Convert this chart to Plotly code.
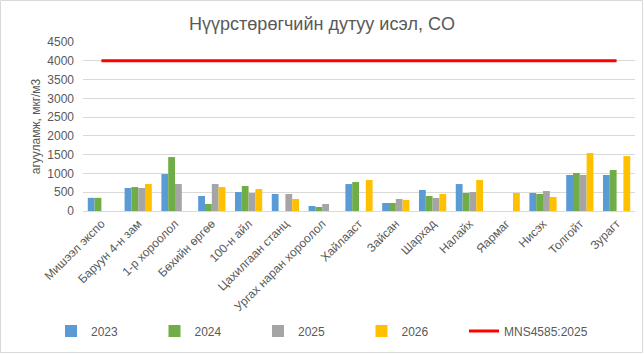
import plotly.graph_objects as go

categories = ["Мишээл экспо", "Баруун 4-н зам", "1-р хороолол", "Бөхийн өргөө", "100-н айл",
              "Цахилгаан станц", "Ургах наран хороолол", "Хайлааст", "Зайсан", "Шархад",
              "Налайх", "Яармаг", "Нисэх", "Толгойт", "Зурагт"]
v2023 = [350, 612, 984, 399, 505, 452, 133, 718, 213, 559, 718, None, 479, 958, 958]
v2024 = [350, 638, 1436, 186, 665, None, 106, 771, 213, 399, 479, None, 452, 1011, 1091]
v2025 = [None, 612, 718, 718, 479, 452, 186, None, 319, 346, 505, None, 532, 958, None]
v2026 = [None, 718, None, 638, 585, 319, None, 825, 293, 452, 825, 479, 372, 1543, 1463]
standard = [4000] * len(categories)
series_names = ["2023", "2024", "2025", "2026"]
colors = ["#5B9BD5", "#70AD47", "#A5A5A5", "#FFC000"]

fig = go.Figure()
for name, vals, col in zip(series_names, [v2023, v2024, v2025, v2026], colors):
    fig.add_trace(go.Bar(x=categories, y=vals, name=name, marker_color=col, marker_line_width=0))
fig.add_trace(go.Scatter(x=categories, y=standard, name="MNS4585:2025", mode="lines",
                         line=dict(color="#FF0000", width=3), legend="legend2"))

L, R, T, B = 83, 9, 42, 143
W, H = 644, 354
pw, ph = W - L - R, H - T - B

leg_common = dict(orientation="h", yanchor="middle", y=(H - B - 331) / ph,
                  font=dict(size=12, color="#595959"), itemclick=False,
                  bgcolor="rgba(0,0,0,0)")

fig.update_layout(
    width=W, height=H,
    margin=dict(l=L, r=R, t=T, b=B),
    paper_bgcolor="white", plot_bgcolor="white",
    font=dict(family="Liberation Sans, Arial, sans-serif", size=12, color="#595959"),
    title=dict(text="Нүүрстөрөгчийн дутуу исэл, CO", x=0.5, xanchor="center",
               y=1 - 24 / H, yanchor="middle", font=dict(size=18, color="#595959")),
    barmode="group", bargap=0.26, bargroupgap=0,
    showlegend=True,
    legend=dict(x=(51 - L) / pw, xanchor="left", entrywidth=58.5, entrywidthmode="pixels",
                **leg_common),
    legend2=dict(x=(464 - L) / pw, xanchor="left", **leg_common),
    xaxis=dict(tickangle=-45, showgrid=False, showline=True, linecolor="#D9D9D9",
               linewidth=1, ticks="", tickfont=dict(size=12, color="#595959")),
    yaxis=dict(range=[0, 4500], dtick=500, showgrid=True, gridcolor="#D9D9D9",
               gridwidth=1, zeroline=False, showline=False, ticks="",
               ticklabelstandoff=8,
               title=dict(text="агууламж, мкг/м3", standoff=4,
                          font=dict(size=12, color="#595959")),
               tickfont=dict(size=12, color="#595959")),
)

fig.add_shape(type="rect", xref="paper", yref="paper",
              x0=(0.5 - L) / pw, x1=(W - 1.5 - L) / pw,
              y0=(H - B - (H - 1.5)) / ph, y1=(H - B - 0.5) / ph,
              line=dict(color="#D9D9D9", width=1), fillcolor="rgba(0,0,0,0)", layer="below")

fig.write_html("out.html")
